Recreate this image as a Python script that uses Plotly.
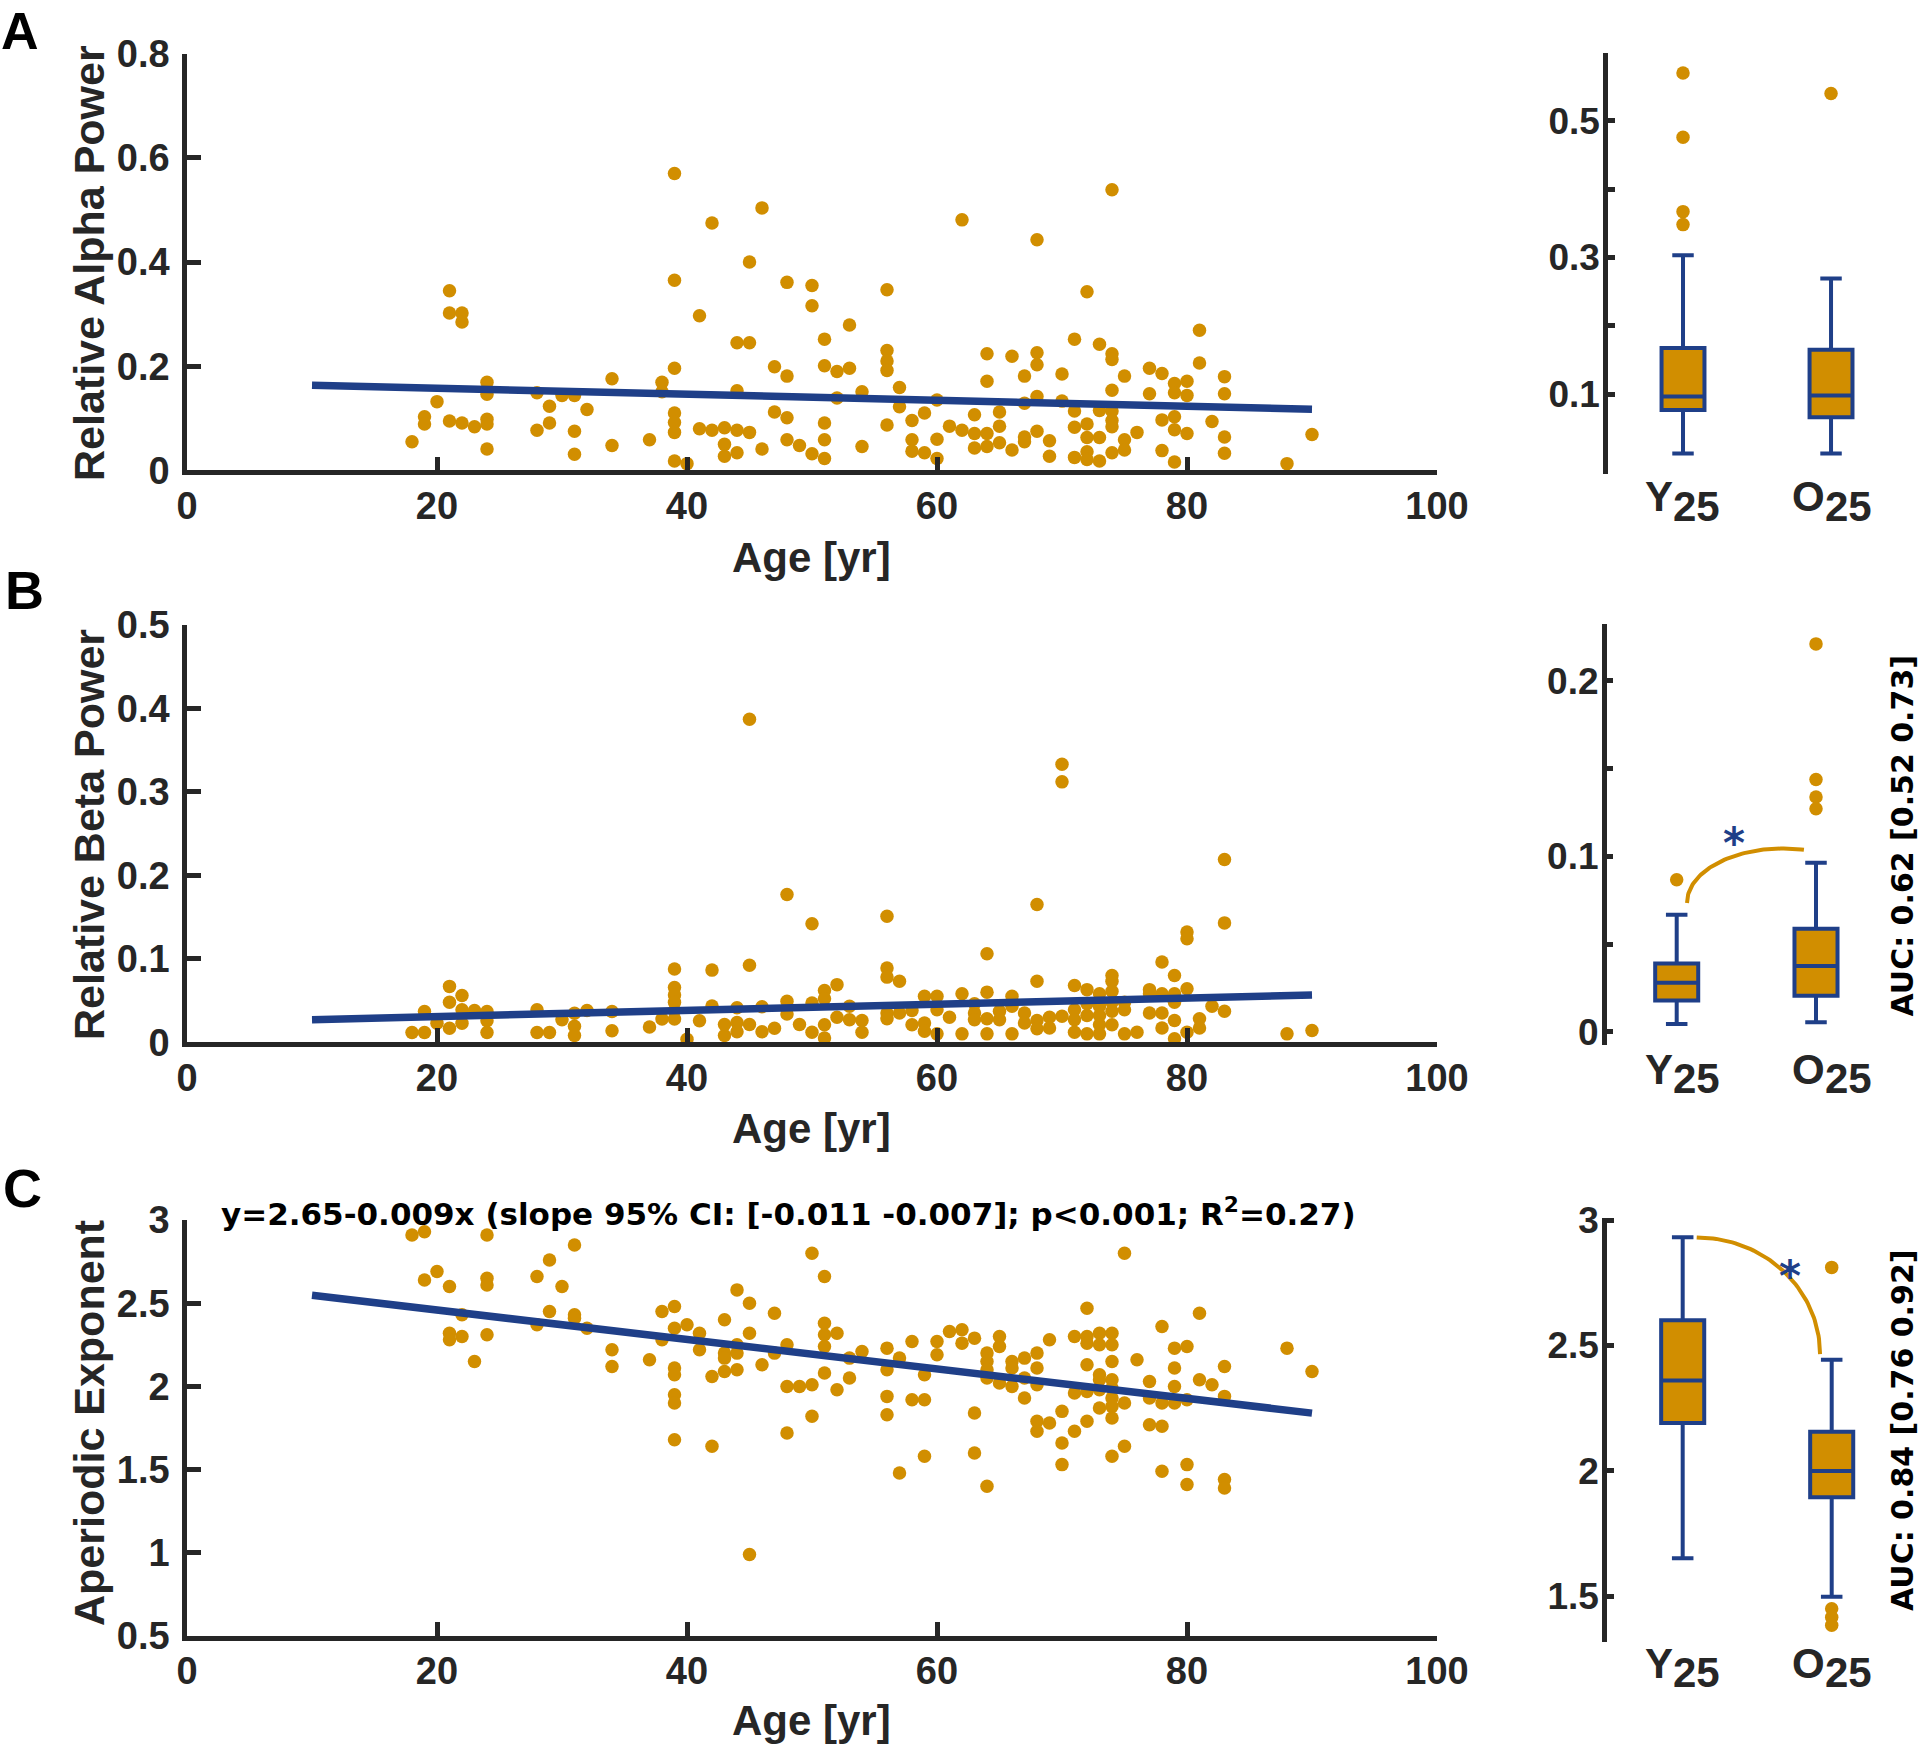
import numpy as np
import plotly.graph_objects as go

W, H = 1920, 1746
GOLD = '#D18E00'
BLUE = '#1F3F88'
AXC = '#262626'

# ---------------- Panel A: relative alpha power ----------------
age_alpha = [18,19,19,20,21,21,22,22,21,22,23,24,24,24,24,24,28,28,29,29,30,31,31,31,32,34,34,37,38,38,
             39,39,39,39,39,39,39,40,41,41,42,42,43,43,43,44,44,44,44,45,45,45,46,46,47,47,48,48,48,48,49,
             50,50,51,53,51,52,53,52,54,51,51,51,50,54,56,56,56,56,56,57,57,58,58,58,59,59,60,60,60,61,
             62,62,63,63,63,64,64,64,64,65,65,65,66,66,67,67,67,67,68,68,68,68,68,69,69,70,70,71,71,71,71,
             72,72,72,72,72,73,73,73,73,74,74,74,74,74,74,74,74,75,75,75,76,77,77,78,78,78,79,79,79,79,79,
             80,80,80,81,81,82,83,83,83,83,88,90]
rel_alpha = [0.055,0.103,0.089,0.132,0.345,0.302,0.302,0.285,0.095,0.091,0.084,0.169,0.146,0.098,0.089,0.041,
             0.149,0.077,0.123,0.091,0.144,0.144,0.075,0.031,0.117,0.176,0.048,0.059,0.169,0.151,
             0.196,0.365,0.570,0.110,0.092,0.073,0.018,0.013,0.297,0.080,0.475,0.077,0.082,0.050,0.027,
             0.245,0.153,0.077,0.034,0.245,0.400,0.073,0.504,0.041,0.199,0.112,0.361,0.181,0.101,0.059,0.048,
             0.355,0.316,0.252,0.279,0.201,0.190,0.196,0.139,0.151,0.091,0.059,0.023,0.032,0.046,
             0.347,0.230,0.210,0.192,0.087,0.159,0.122,0.096,0.059,0.037,0.110,0.034,0.135,0.060,0.023,0.085,
             0.481,0.077,0.107,0.071,0.043,0.224,0.171,0.071,0.046,0.112,0.085,0.053,0.219,0.039,
             0.181,0.129,0.064,0.055,0.443,0.226,0.203,0.142,0.075,0.057,0.027,0.185,0.133,0.252,0.114,0.083,0.025,
             0.343,0.089,0.063,0.036,0.021,0.242,0.115,0.063,0.018,0.539,0.224,0.213,0.154,0.114,0.096,0.084,0.034,
             0.181,0.059,0.039,0.073,0.196,0.147,0.186,0.097,0.038,0.167,0.149,0.103,0.078,0.016,
             0.171,0.144,0.071,0.269,0.206,0.094,0.180,0.147,0.064,0.033,0.013,0.069]
fit_alpha = [0.1694, -0.000579]   # intercept, slope

# ---------------- Panel B: relative beta power ----------------
age_beta = [18,19,19,20,21,21,21,22,22,22,23,24,24,24,28,28,29,30,31,31,31,32,34,34,37,38,
            39,39,39,39,39,39,40,41,42,42,43,43,44,44,44,45,45,45,46,46,47,48,48,48,49,
            50,56,68,70,70,83,83,80,80,64,78,79,56,56,57,68,51,51,52,71,72,73,74,74,74,77,77,78,79,79,80,
            59,60,60,62,63,64,66,66,50,53,82,83,50,51,51,52,53,54,54,56,56,57,58,58,59,59,60,61,62,63,63,
            64,64,65,65,66,67,67,68,68,69,69,70,71,71,71,72,72,72,73,73,73,73,74,74,74,75,75,75,76,77,78,78,
            79,79,80,81,81,88,90]
rel_beta = [0.0115,0.0115,0.0368,0.0226,0.0669,0.0479,0.0168,0.0559,0.039,0.0226,0.0381,0.0368,0.0257,0.0115,
            0.039,0.0115,0.0115,0.027,0.0346,0.019,0.008,0.0381,0.0368,0.0137,0.0182,0.0279,
            0.0878,0.0656,0.0567,0.0479,0.0381,0.0279,0.0035,0.0257,0.0864,0.0434,0.0213,0.008,0.0412,0.0235,0.0124,
            0.387,0.0922,0.0213,0.0426,0.0124,0.0168,0.177,0.0492,0.0337,0.0213,
            0.142,0.151,0.165,0.333,0.312,0.219,0.143,0.132,0.124,0.106,0.096,0.080,0.089,0.078,0.073,0.073,
            0.062,0.052,0.069,0.068,0.063,0.058,0.080,0.073,0.061,0.063,0.058,0.058,0.058,0.048,0.064,
            0.055,0.055,0.039,0.058,0.046,0.060,0.055,0.043,0.047,0.043,0.043,0.037,0.012,0.021,0.005,0.030,0.027,
            0.026,0.012,0.035,0.028,0.035,0.038,0.021,0.023,0.013,0.010,0.030,0.010,0.035,0.027,
            0.028,0.010,0.037,0.027,0.010,0.035,0.023,0.026,0.016,0.030,0.017,0.031,0.039,0.027,0.012,
            0.046,0.032,0.010,0.043,0.032,0.021,0.010,0.048,0.037,0.021,0.048,0.039,0.010,0.012,0.035,0.035,0.017,
            0.026,0.004,0.012,0.028,0.017,0.010,0.014]
fit_beta = [0.0233, 0.000371]

# ---------------- Panel C: aperiodic exponent ----------------
age_exp = [18,19,19,20,21,21,21,22,22,23,24,24,24,24,28,28,29,29,30,31,31,31,32,34,34,37,38,38,
           39,39,39,39,39,39,39,40,41,41,42,42,43,43,43,43,44,44,44,44,45,45,45,46,47,47,48,48,48,49,
           50,50,50,51,51,51,51,51,52,52,53,53,54,56,56,56,56,57,57,58,58,59,59,59,60,60,61,62,62,63,63,63,
           64,64,64,64,64,65,65,65,66,66,66,67,67,67,68,68,68,68,68,69,69,70,70,70,71,71,71,
           72,72,72,72,72,72,73,73,73,73,73,73,74,74,74,74,74,74,74,74,74,75,75,75,76,77,77,77,
           78,78,78,78,79,79,79,79,80,80,80,80,81,81,82,83,83,83,83,88,90]
aper_exp = [2.91,2.93,2.64,2.69,2.60,2.32,2.28,2.43,2.30,2.15,2.91,2.65,2.61,2.31,2.66,2.37,2.76,2.45,2.60,
            2.85,2.43,2.41,2.35,2.22,2.12,2.16,2.45,2.28,2.48,2.35,2.11,2.07,1.95,1.90,1.68,2.37,2.32,2.22,
            2.06,1.64,2.40,2.20,2.17,2.09,2.58,2.25,2.20,2.10,2.50,2.32,0.99,2.13,2.44,2.20,2.25,2.00,1.72,2.00,
            2.80,2.01,1.82,2.66,2.38,2.31,2.24,2.08,2.32,1.98,2.17,2.05,2.21,2.23,2.10,1.94,1.83,2.17,1.48,
            2.27,1.92,2.07,1.92,1.58,2.27,2.19,2.33,2.34,2.26,2.29,1.84,1.60,
            2.20,2.15,2.10,2.05,1.40,2.30,2.24,2.02,2.15,2.11,2.00,2.17,2.05,1.93,2.20,2.11,2.01,1.79,1.73,
            2.28,1.78,1.85,1.66,1.53,2.30,1.96,1.73,2.47,2.30,2.26,2.13,1.97,1.79,2.32,2.25,2.07,2.04,1.98,1.87,
            2.32,2.25,2.15,2.04,1.99,1.93,1.88,1.81,1.58,2.80,1.90,1.64,2.16,2.03,1.93,1.77,
            2.36,1.90,1.76,1.49,2.23,2.11,2.00,1.90,2.24,1.92,1.53,1.41,2.44,2.04,2.01,2.12,1.94,1.44,1.39,2.23,2.09]
fit_exp = [2.636, -0.00885]
fit_range = [10, 90]

# ---------------- Box plot statistics [lower whisker, Q1, median, Q3, upper whisker] ----------------
groups = ['Y', 'O']
alpha_stats = {'Y': [0.013, 0.0765, 0.0965, 0.1675, 0.303], 'O': [0.013, 0.066, 0.098, 0.165, 0.269]}
alpha_out = {'Y': [0.570, 0.476, 0.367, 0.348], 'O': [0.540]}
beta_stats = {'Y': [0.0046, 0.0179, 0.028, 0.039, 0.0668], 'O': [0.0055, 0.0207, 0.0376, 0.0588, 0.0964]}
beta_out = {'Y': [0.0867], 'O': [0.221, 0.1438, 0.1338, 0.1271]}
exp_stats = {'Y': [1.651, 2.190, 2.360, 2.600, 2.931], 'O': [1.497, 1.894, 1.999, 2.155, 2.443]}
exp_out = {'Y': [], 'O': [2.811, 1.449, 1.415, 1.383]}

eq_text = 'y=2.65-0.009x (slope 95% CI: [-0.011 -0.007]; p<0.001; R<sup>2</sup>=0.27)'
auc_beta = 'AUC: 0.62 [0.52 0.73]'
auc_exp = 'AUC: 0.84 [0.76 0.92]'

# ---------------- helpers ----------------
def px(x):
    return x / W

def py(y):
    return 1 - y / H

fig = go.Figure()

SANS = 'Liberation Sans, Arial, sans-serif'
VERD = 'DejaVu Sans, Verdana, sans-serif'
TICKFONT = dict(family=SANS, size=38, color=AXC, weight='bold')
BOXTICKFONT = dict(family=SANS, size=37, color=AXC, weight='bold')

scatter_axes = [
    ('x', 'y', age_alpha, rel_alpha, fit_alpha, (53.7, 470.4), [0, 0.8], [0, 0.2, 0.4, 0.6, 0.8], ['0', '0.2', '0.4', '0.6', '0.8']),
    ('x2', 'y2', age_beta, rel_beta, fit_beta, (625.0, 1042.2), [0, 0.5], [0, 0.1, 0.2, 0.3, 0.4, 0.5], ['0', '0.1', '0.2', '0.3', '0.4', '0.5']),
    ('x3', 'y3', age_exp, aper_exp, fit_exp, (1220.0, 1636.0), [0.5, 3], [0.5, 1, 1.5, 2, 2.5, 3], ['0.5', '1', '1.5', '2', '2.5', '3']),
]

layout_axes = {}
for i, (xa, ya, ages, vals, fit, ydom, yr, yt, ytt) in enumerate(scatter_axes):
    fig.add_trace(go.Scatter(x=ages, y=vals, mode='markers', xaxis=xa, yaxis=ya,
                             marker=dict(color=GOLD, size=13.5, line=dict(width=0)), cliponaxis=False))
    xs = np.array(fit_range, dtype=float)
    fig.add_trace(go.Scatter(x=xs, y=fit[0] + fit[1] * xs, mode='lines', xaxis=xa, yaxis=ya,
                             line=dict(color=BLUE, width=7.5), cliponaxis=False))
    xkey = 'xaxis' if i == 0 else 'xaxis%d' % (i + 1)
    ykey = 'yaxis' if i == 0 else 'yaxis%d' % (i + 1)
    layout_axes[xkey] = dict(domain=[px(187), px(1437)], range=[0, 100], anchor=ya,
                             showline=True, linecolor=AXC, linewidth=4.5, ticks='inside', ticklen=14,
                             tickwidth=4.5, tickcolor=AXC, tickvals=[0, 20, 40, 60, 80, 100],
                             tickfont=TICKFONT, showgrid=False, zeroline=False, ticklabelstandoff=-2,
                             automargin=False)
    layout_axes[ykey] = dict(domain=[py(ydom[1]), py(ydom[0])], range=yr, anchor=xa,
                             showline=True, linecolor=AXC, linewidth=4.5, ticks='inside', ticklen=14,
                             tickwidth=4.5, tickcolor=AXC, tickvals=yt, ticktext=ytt,
                             tickfont=TICKFONT, showgrid=False, zeroline=False, ticklabelstandoff=5,
                             automargin=False)

# ---------------- box plots ----------------
box_axes = [
    ('x4', 'y4', alpha_stats, alpha_out, (1608, 1900), [0.4932, 2.466], (52.7, 474.0), [-0.017, 0.5996],
     [0.1, 0.3, 0.5], [0.2, 0.4], 0.29),
    ('x5', 'y5', beta_stats, beta_out, (1606.7, 1900), [0.4975, 2.603], (623.7, 1044.8), [-0.0073, 0.2325],
     [0, 0.1, 0.2], [0.05, 0.15], 0.309),
    ('x6', 'y6', exp_stats, exp_out, (1607, 1900), [0.492, 2.4584], (1218.0, 1642.0), [1.3165, 3.008],
     [1.5, 2, 2.5, 3], [], 0.289),
]
for j, (xa, ya, stats, outs, xdom, xr, ydom, yr, yt, ymt, bw) in enumerate(box_axes):
    for k, g in enumerate(groups):
        s = stats[g]
        fig.add_trace(go.Box(x=[k + 1], lowerfence=[s[0]], q1=[s[1]], median=[s[2]], q3=[s[3]],
                             upperfence=[s[4]], xaxis=xa, yaxis=ya, width=bw, whiskerwidth=0.5,
                             fillcolor=GOLD, line=dict(color=BLUE, width=4), boxpoints=False))
        if outs[g]:
            fig.add_trace(go.Scatter(x=[k + 1] * len(outs[g]), y=outs[g], mode='markers', xaxis=xa, yaxis=ya,
                                     marker=dict(color=GOLD, size=13.5, line=dict(width=0)), cliponaxis=False))
    n = 4 + j
    layout_axes['xaxis%d' % n] = dict(domain=[px(xdom[0]), px(xdom[1])], range=xr, anchor=ya,
                                      showline=False, showticklabels=False, ticks='', showgrid=False,
                                      zeroline=False, automargin=False)
    ydict = dict(domain=[py(ydom[1]), py(ydom[0])], range=yr, anchor=xa,
                 showline=True, linecolor=AXC, linewidth=4.5, ticks='inside', ticklen=7,
                 tickwidth=4.5, tickcolor=AXC, tickvals=yt, tickfont=BOXTICKFONT, showgrid=False,
                 zeroline=False, ticklabelstandoff=-4, automargin=False)
    if ymt:
        ydict['minor'] = dict(tickvals=ymt, ticks='inside', ticklen=7, tickwidth=4.5, tickcolor=AXC,
                              showgrid=False)
    layout_axes['yaxis%d' % n] = ydict

# significance arcs (elliptical arcs between the groups)
phi = np.linspace(0, np.deg2rad(102.6), 60)
fig.add_trace(go.Scatter(x=1.763 - 0.689 * np.cos(phi), y=0.0735 + 0.031 * np.sin(phi), mode='lines',
                         xaxis='x5', yaxis='y5', line=dict(color=GOLD, width=4), cliponaxis=False))
th = np.linspace(0, np.pi / 2, 60)
fig.add_trace(go.Scatter(x=1.094 + 0.828 * np.sin(th), y=2.465 + 0.4655 * np.cos(th), mode='lines',
                         xaxis='x6', yaxis='y6', line=dict(color=GOLD, width=4), cliponaxis=False))

annotations = []
def ann(text, x, y, size, family=SANS, color=AXC, angle=0, xanchor='center', yanchor='middle'):
    annotations.append(dict(text=text, x=px(x), y=py(y), xref='paper', yref='paper', showarrow=False,
                            textangle=angle, xanchor=xanchor, yanchor=yanchor,
                            font=dict(family=family, size=size, color=color, weight='bold')))

# panel letters
ann('A', 20, 0, 52, color='black', yanchor='top')
ann('B', 24, 590, 54, color='black')
ann('C', 22, 1188, 54, color='black')
# axis titles
ann('Relative Alpha Power', 89, 263, 43, angle=-90)
ann('Relative Beta Power', 89, 835, 43, angle=-90)
ann('Aperiodic Exponent', 89, 1423, 43, angle=-90)
ann('Age [yr]', 811, 557, 42)
ann('Age [yr]', 811, 1128, 42)
ann('Age [yr]', 811, 1720, 42)
# group labels
for ycap, ysub in [(496, 506.5), (1069, 1078), (1663, 1672)]:
    ann('Y', 1659, ycap, 42)
    ann('25', 1696.5, ysub, 42)
    ann('O', 1808, ycap, 42)
    ann('25', 1848, ysub, 42)
# equation, AUC, asterisks
ann(eq_text, 788, 1212, 31, family=VERD, color='black')
ann(auc_beta, 1902, 836.5, 30, family=VERD, color='black', angle=-90)
ann(auc_exp, 1902, 1431, 30, family=VERD, color='black', angle=-90)
ann('*', 1734, 843, 42, family=VERD, color=BLUE)
ann('*', 1790, 1276, 42, family=VERD, color=BLUE)

fig.update_layout(width=W, height=H, margin=dict(l=0, r=0, t=0, b=0, autoexpand=False),
                  paper_bgcolor='white', plot_bgcolor='rgba(0,0,0,0)', showlegend=False,
                  annotations=annotations, **layout_axes)

fig.write_html('out.html', config={'displayModeBar': False},
               post_script="document.body.style.margin='0px';document.body.style.padding='0px';"
                           "document.body.style.overflow='hidden';")
